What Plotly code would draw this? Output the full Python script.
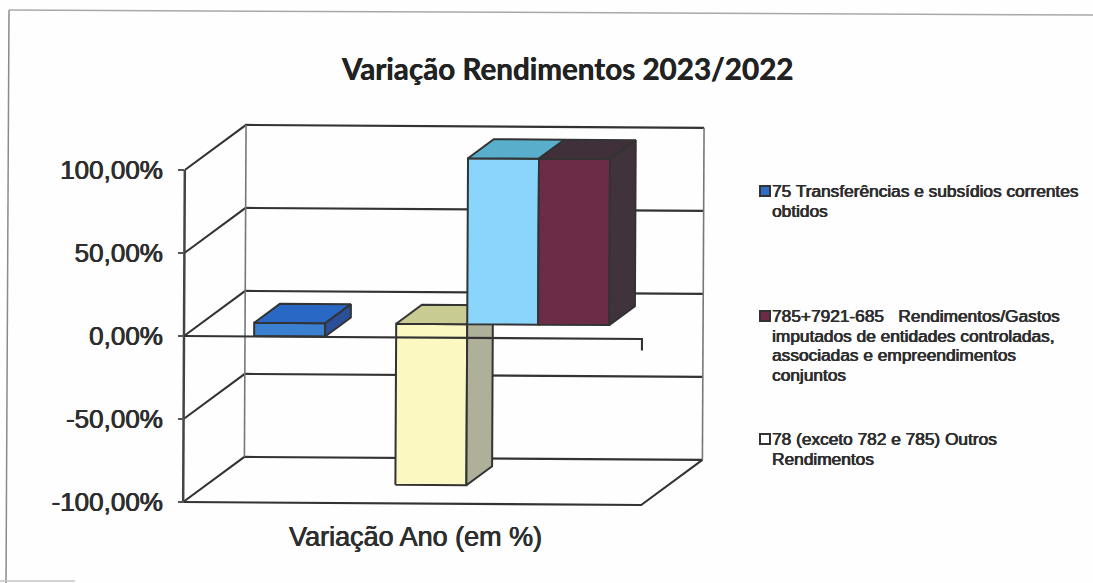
import plotly.graph_objects as go

# ---- data ----
series_names = ["75", "(sem barra)", "78", "(outra)", "785+7921-685"]
series_values = [-8, None, -97, 100, 100]
front_colors = ["#3a7fd0", None, "#fbf8c2", "#8ad5fb", "#6c2c48"]
top_colors = ["#2a68c6", None, "#c9cc92", "#58aecb", "#40303a"]
side_colors = ["#2b4f98", None, "#aeb09a", "#4a8fa8", "#41333c"]
y_ticks = [-100, -50, 0, 50, 100]
y_tick_labels = ["-100,00%", "-50,00%", "0,00%", "50,00%", "100,00%"]
category_label = "Variação Ano (em %)"
title_text = "Variação Rendimentos 2023/2022"
legend_labels = [
    ["75 Transferências e subsídios correntes", "obtidos"],
    ["785+7921-685   Rendimentos/Gastos", "imputados de entidades controladas,",
     "associadas e empreendimentos", "conjuntos"],
    ["78 (exceto 782 e 785) Outros", "Rendimentos"],
]
legend_colors = ["#2f6cc4", "#6c2c48", "#ffffff"]
legend_y_px = [191, 316, 439]

# ---- layout constants ----
W, H = 1093, 583
PX_X, PX_Y = 71.0, 1.66          # px per bar slot, px per percent
WALL_L_PX, WALL_R_PX, ZERO_PX = 184.0, 642.0, 336.0
DEPTH_PX = (61.0, 45.5)
BAR_START = 0.30                 # depth fraction of bar front
BAR_DEPTH = 0.42                 # depth fraction of bar thickness
LEFT_GAP = 0.73
TILT = 0.0065                    # scan rotation
SKEW = 0.005
LEG_LINE_PX = 19.6
TEXT = "#2e2e2e"
HEAVY = f"0.5px 0 0 {TEXT}, -0.3px 0 0 {TEXT}"   # scanned text looks semi-bold

def x_val(px):
    return (px - WALL_L_PX) / PX_X - LEFT_GAP - 0.5

X_L, X_R = x_val(WALL_L_PX), x_val(WALL_R_PX)
DX, DY = DEPTH_PX[0] / PX_X, DEPTH_PX[1] / PX_Y
VT = TILT * PX_X / PX_Y
VS = SKEW * PX_Y / PX_X

def proj(x, v, d=0.0):
    X0 = x + d * DX
    Y0 = v + d * DY
    return X0 + VS * Y0, Y0 - VT * (X0 - X_L)

def poly(corners):
    pts = [proj(*c) for c in corners]
    pts.append(pts[0])
    return [p[0] for p in pts], [p[1] for p in pts]

LINE = "#333333"
fig = go.Figure()

def line(corners, color=LINE, width=2.1):
    pts = [proj(*c) for c in corners]
    fig.add_trace(go.Scatter(x=[p[0] for p in pts], y=[p[1] for p in pts], mode="lines",
                             line=dict(color=color, width=width), hoverinfo="skip", showlegend=False))

def face(corners, fill, width=2.0):
    xs, ys = poly(corners)
    fig.add_trace(go.Scatter(x=xs, y=ys, mode="lines", fill="toself", fillcolor=fill,
                             line=dict(color=LINE, width=width), hoverinfo="skip", showlegend=False))

# walls and gridlines
for t in y_ticks:
    line([(X_L, t, 0), (X_L, t, 1), (X_R, t, 1)])
line([(X_L, 100, 1), (X_L, -100, 1)], "#777777", 1.6)
line([(X_R, 100, 1), (X_R, -100, 1)], "#777777", 1.6)
line([(X_L, 100, 0), (X_L, -100, 0)], "#444444", 2.5)
line([(X_L, -100, 0), (X_R, -100, 0), (X_R, -100, 1)])

# bars
for i, (name, v) in enumerate(zip(series_names, series_values)):
    if v is None:
        continue
    a, b = i - 0.5, i + 0.5
    lo, hi = min(0, v), max(0, v)
    d0, d1 = BAR_START, BAR_START + BAR_DEPTH
    face([(a, lo, d0), (b, lo, d0), (b, hi, d0), (a, hi, d0)], front_colors[i])
    face([(a, hi, d0), (b, hi, d0), (b, hi, d1), (a, hi, d1)], top_colors[i])
    face([(b, lo, d0), (b, lo, d1), (b, hi, d1), (b, hi, d0)], side_colors[i])

# front zero axis with its end tick
line([(X_L, 0, 0), (X_R, 0, 0), (X_R, -7, 0)])

shapes = []
def px_line(x0, y0, x1, y1, color="#8a8a8a", w=1.5):
    shapes.append(dict(type="line", xref="paper", yref="paper", x0=x0 / W, x1=x1 / W,
                       y0=1 - y0 / H, y1=1 - y1 / H, line=dict(color=color, width=w)))
px_line(9, 10, 6, 583)
px_line(9, 10, 1093, 15, "#a8a8a8")
px_line(0, 581, 75, 581, "#c4c4c4")

annotations = []
LEG_TEXT_X, LEG_BOX = 772, 10
for lines_, color, yc in zip(legend_labels, legend_colors, legend_y_px):
    shapes.append(dict(type="rect", xref="paper", yref="paper",
                       x0=(LEG_TEXT_X - 12) / W, x1=(LEG_TEXT_X - 12 + LEG_BOX) / W,
                       y0=1 - (yc + LEG_BOX / 2) / H, y1=1 - (yc - LEG_BOX / 2) / H,
                       fillcolor=color, line=dict(color="#333333", width=2)))
    for k, txt in enumerate(lines_):
        annotations.append(dict(text=txt, xref="paper", yref="paper", x=LEG_TEXT_X / W,
                                y=1 - (yc + k * LEG_LINE_PX) / H, xanchor="left", yanchor="middle",
                                align="left", showarrow=False, borderpad=0, borderwidth=0,
                                font=dict(family="Liberation Sans", size=17.3, color=TEXT, shadow=HEAVY)))
annotations.append(dict(text=category_label, xref="paper", yref="paper", x=415 / W, y=1 - 537 / H,
                        xanchor="center", yanchor="middle", showarrow=False,
                        font=dict(family="Liberation Sans", size=27, color=TEXT, shadow=HEAVY)))

fig.update_layout(
    width=W, height=H, margin=dict(l=0, r=0, t=0, b=0), autosize=False,
    paper_bgcolor="#fefefe", plot_bgcolor="rgba(0,0,0,0)", showlegend=False,
    title=dict(text=f"<b>{title_text}</b>", x=567.5 / W, y=1 - 70 / H, xanchor="center", yanchor="middle",
               font=dict(family="Lato", size=29.6, color="#222222", shadow="0.5px 0 0 #222222")),
    shapes=shapes, annotations=annotations,
    xaxis=dict(range=[x_val(0), x_val(W)], visible=False, domain=[0, 1], fixedrange=True),
    yaxis=dict(range=[(ZERO_PX - H) / PX_Y, ZERO_PX / PX_Y], domain=[0, 1], anchor="free",
               position=WALL_L_PX / W, tickmode="array", tickvals=y_ticks, ticktext=y_tick_labels,
               ticks="outside", ticklen=6, tickwidth=2, tickcolor="#555555", showgrid=False,
               zeroline=False, showline=False, ticklabelstandoff=10,
               tickfont=dict(family="Liberation Sans", size=26, color=TEXT, shadow=HEAVY), fixedrange=True),
)
fig.write_html("out.html", post_script="document.body.style.margin='0';",
               config={"displayModeBar": False})
